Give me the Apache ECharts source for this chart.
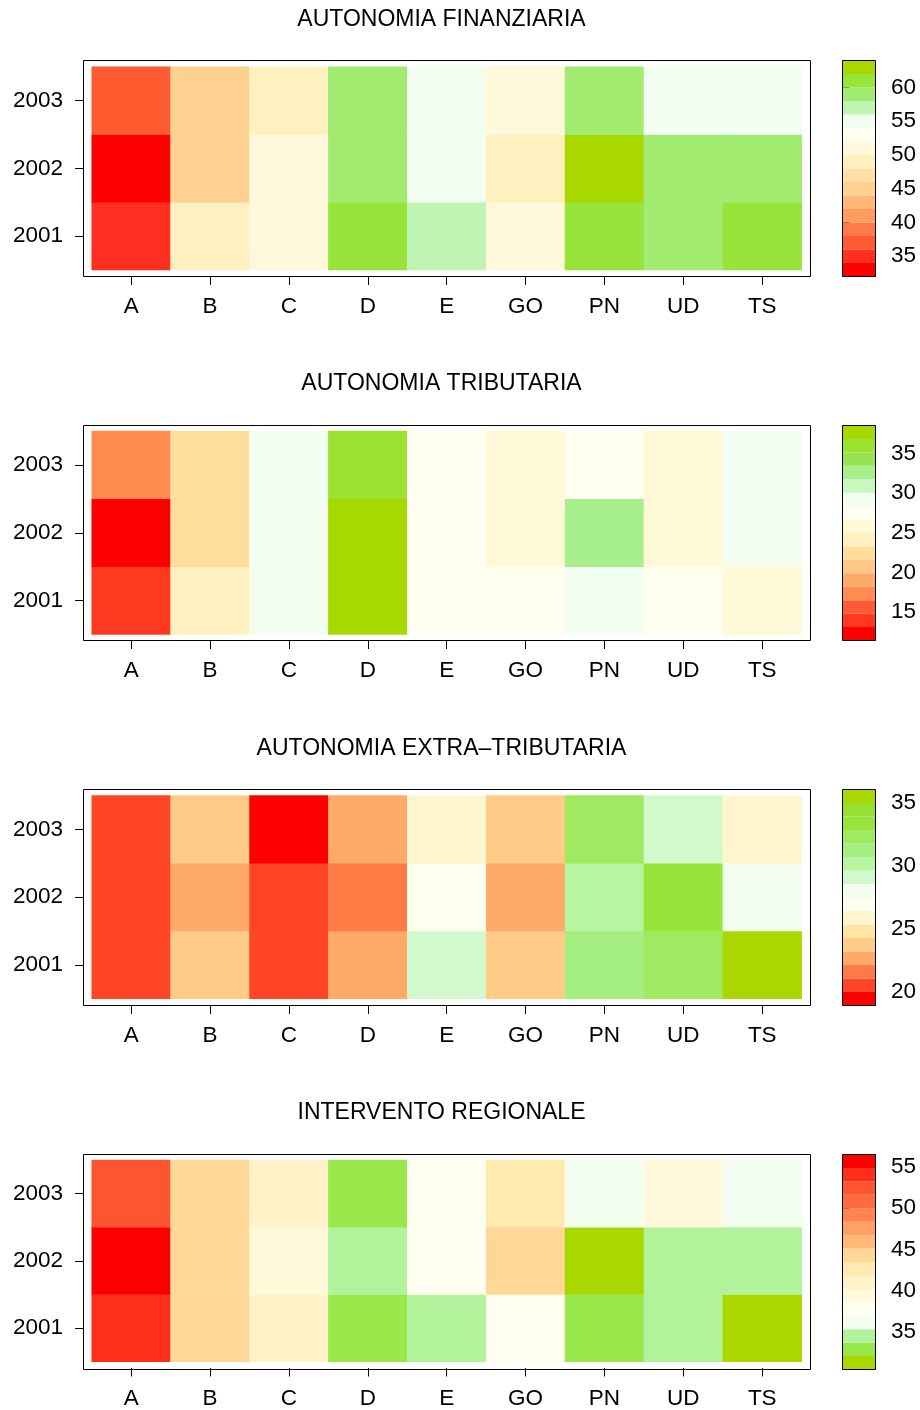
<!DOCTYPE html>
<html>
<head>
<meta charset="utf-8">
<script src="https://cdn.jsdelivr.net/npm/echarts@6.0.0/dist/echarts.min.js"></script>
<style>
html,body{margin:0;padding:0;background:#fff;}
#chart{width:920px;height:1410px;}
</style>
</head>
<body>
<div id="chart"></div>
<script>
// ---------------- DATA ----------------
const categories = ['A', 'B', 'C', 'D', 'E', 'GO', 'PN', 'UD', 'TS'];
const years = ['2001', '2002', '2003'];
const titles = ['AUTONOMIA FINANZIARIA', 'AUTONOMIA TRIBUTARIA', 'AUTONOMIA EXTRA\u2013TRIBUTARIA', 'INTERVENTO REGIONALE'];

const finanziaria_2001 = [34.6, 49.3, 51.0, 61.2, 57.1, 50.8, 60.9, 59.4, 61.5];
const finanziaria_2002 = [32.0, 45.2, 51.3, 59.0, 55.4, 48.6, 64.0, 59.7, 59.2];
const finanziaria_2003 = [37.1, 44.8, 49.5, 59.3, 55.2, 51.1, 58.8, 55.6, 55.1];

const tributaria_2001 = [13.9, 24.0, 29.3, 37.7, 27.6, 27.2, 28.9, 27.4, 25.6];
const tributaria_2002 = [11.45, 22.6, 29.1, 38.5, 27.7, 25.9, 32.6, 25.8, 29.0];
const tributaria_2003 = [17.3, 22.2, 29.4, 36.0, 27.5, 25.6, 27.0, 26.0, 29.2];

const extra_2001 = [20.6, 23.9, 20.4, 22.6, 29.0, 23.7, 31.3, 32.2, 36.05];
const extra_2002 = [20.5, 22.7, 20.8, 21.7, 26.9, 22.8, 30.1, 33.4, 28.1];
const extra_2003 = [20.3, 23.6, 18.95, 22.9, 25.8, 23.9, 32.4, 29.2, 26.0];

const intervento_2001 = [54.0, 44.5, 41.1, 32.9, 34.6, 37.9, 33.1, 34.4, 31.4];
const intervento_2002 = [56.5, 44.2, 39.5, 34.7, 37.7, 44.0, 30.5, 34.3, 34.5];
const intervento_2003 = [52.3, 44.4, 41.0, 33.0, 37.9, 42.6, 36.1, 39.3, 36.3];

// legend tick labels
const ticksFinanziaria = [35, 40, 45, 50, 55, 60];
const ticksTributaria = [15, 20, 25, 30, 35];
const ticksExtra = [20, 25, 30, 35];
const ticksIntervento = [35, 40, 45, 50, 55];

// colour palettes (low -> high value), 16 steps each
const palFinanziaria = ['#FF0000','#FF3020','#FF5A30','#FF7A48','#FF9C60','#FFB878','#FFD090','#FFE0A4','#FFF0C0','#FFF8DA','#FFFFF0','#F2FEF0','#BFF4B2','#A0EB70','#98E43A','#A8D800'];
const palTributaria = ['#FF0000','#FF3820','#FF5A35','#FF8C50','#FFAA68','#FFC888','#FFDE9C','#FFF0C0','#FFF9D8','#FFFFF0','#F2FEF0','#C8F7C0','#A8F08C','#98E450','#9CE230','#A5DA00'];
const palExtra = ['#FF0000','#FF4525','#FF7A45','#FFAA68','#FFCC88','#FFE4A8','#FFF6D0','#FFFFF0','#F3FEF0','#D2F9CC','#B8F5A0','#A5EE80','#9FEA60','#98E43A','#98E030','#A8D800'];
const palIntervento = ['#A8D800','#98E84C','#B2F29A','#F3FEF0','#FFFFF0','#FFF9DA','#FFF2C8','#FFEAB0','#FFD898','#FFBA7A','#FFA064','#FF8450','#FF6A40','#FF5530','#FF2E1A','#FF0000'];

// ---------------- LAYOUT ----------------
const FONT = "'Liberation Sans', Arial, Helvetica, sans-serif";
const FS = 22.5;
const FS_TITLE = 23;
const PITCH = 364.4;
const CELL_TOP0 = 66.7;
const CELL_H = 203.3;
const CELL_LEFT = 91.7;
const CELL_W = 710;
const BOX_LEFT = 83.5, BOX_RIGHT = 810.5;
const PAD_TOP = 6.3, PAD_BOT = 6.0;
const LEG_LEFT = 842.5, LEG_W = 33;
const TITLE_X = 441.5, TITLE_DY = 47.2;

const panels = [
  { title: titles[0], rows: [finanziaria_2001, finanziaria_2002, finanziaria_2003], pal: palFinanziaria, ticks: ticksFinanziaria },
  { title: titles[1], rows: [tributaria_2001, tributaria_2002, tributaria_2003], pal: palTributaria, ticks: ticksTributaria },
  { title: titles[2], rows: [extra_2001, extra_2002, extra_2003], pal: palExtra, ticks: ticksExtra },
  { title: titles[3], rows: [intervento_2001, intervento_2002, intervento_2003], pal: palIntervento, ticks: ticksIntervento }
];

const option = {
  animation: false,
  backgroundColor: '#ffffff',
  grid: [], xAxis: [], yAxis: [], series: [], visualMap: [], graphic: []
};

panels.forEach((p, i) => {
  const cellTop = CELL_TOP0 + i * PITCH;
  const boxTop = Math.round(cellTop - PAD_TOP) + 0.5;
  const boxBot = Math.round(cellTop + CELL_H + PAD_BOT) + 0.5;

  const all = [].concat(...p.rows);
  const vmin = Math.min(...all), vmax = Math.max(...all);
  const n = p.pal.length;
  const step = (vmax - vmin) / n;
  const breaks = [];
  for (let k = 0; k <= n; k++) breaks.push(vmin + k * step);

  const heatData = [];
  p.rows.forEach((row, yi) => row.forEach((v, xi) => heatData.push([xi, yi, v])));

  const gHeat = option.grid.length;
  option.grid.push({ left: CELL_LEFT, top: cellTop, width: CELL_W, height: CELL_H, containLabel: false });
  const gLeg = option.grid.length;
  option.grid.push({ left: LEG_LEFT, top: boxTop, width: LEG_W, height: boxBot - boxTop, containLabel: false });

  const xiHeat = option.xAxis.length;
  option.xAxis.push({
    gridIndex: gHeat, type: 'category', data: categories, position: 'bottom',
    offset: (boxBot - (cellTop + CELL_H)),
    axisLine: { show: false },
    axisTick: { show: true, alignWithLabel: true, length: 8.5, lineStyle: { color: '#000', width: 1 } },
    axisLabel: { margin: 19, fontSize: FS, color: '#000', fontFamily: FONT },
    splitLine: { show: false }
  });
  const yiHeat = option.yAxis.length;
  option.yAxis.push({
    gridIndex: gHeat, type: 'category', data: years, position: 'left',
    offset: CELL_LEFT - BOX_LEFT,
    axisLine: { show: false },
    axisTick: { show: true, alignWithLabel: true, length: 8.5, lineStyle: { color: '#000', width: 1 } },
    axisLabel: { margin: 20.5, fontSize: FS, color: '#000', fontFamily: FONT, padding: [6, 0, 0, 0] },
    splitLine: { show: false }
  });
  const xiLeg = option.xAxis.length;
  option.xAxis.push({ gridIndex: gLeg, type: 'value', min: 0, max: 1, show: false });
  const yiLeg = option.yAxis.length;
  option.yAxis.push({
    gridIndex: gLeg, type: 'value', min: vmin, max: vmax, position: 'right',
    axisLine: { show: false },
    axisTick: { show: true, length: 7, customValues: p.ticks, lineStyle: { color: '#000', width: 1 } },
    axisLabel: { show: true, margin: 15.5, customValues: p.ticks, fontSize: FS, color: '#000', fontFamily: FONT, padding: [4, 0, 0, 0] },
    splitLine: { show: false }
  });

  const sHeat = option.series.length;
  option.series.push({
    type: 'heatmap', xAxisIndex: xiHeat, yAxisIndex: yiHeat, data: heatData,
    silent: true, progressive: 0, itemStyle: { borderWidth: 0 }, emphasis: { disabled: true }
  });
  const pal = p.pal;
  option.series.push({
    type: 'custom', xAxisIndex: xiLeg, yAxisIndex: yiLeg, silent: true,
    data: breaks.slice(0, n).map((b, k) => [0, b, breaks[k + 1], k]),
    encode: { x: 0, y: [1, 2] },
    renderItem: function (params, api) {
      const lo = api.value(1), hi = api.value(2), k = api.value(3);
      const a = api.coord([0, lo]), b = api.coord([1, hi]);
      return { type: 'rect', shape: { x: a[0], y: b[1], width: b[0] - a[0], height: a[1] - b[1] }, style: { fill: pal[k] } };
    }
  });

  option.visualMap.push({
    type: 'piecewise', show: false, seriesIndex: sHeat, dimension: 2,
    pieces: pal.map((c, k) => ({
      gte: k === 0 ? breaks[0] - 1e-9 : breaks[k],
      lt: k === n - 1 ? breaks[n] + 1e-9 : breaks[k + 1],
      color: c
    }))
  });

  option.graphic.push({
    type: 'rect', z: 100, silent: true,
    shape: { x: BOX_LEFT, y: boxTop, width: BOX_RIGHT - BOX_LEFT, height: boxBot - boxTop },
    style: { fill: 'none', stroke: '#000', lineWidth: 1 }
  });
  option.graphic.push({
    type: 'rect', z: 100, silent: true,
    shape: { x: LEG_LEFT, y: boxTop, width: LEG_W, height: boxBot - boxTop },
    style: { fill: 'none', stroke: '#000', lineWidth: 1 }
  });
  option.graphic.push({
    type: 'text', z: 100, silent: true, x: TITLE_X, y: cellTop - TITLE_DY,
    style: { text: p.title, fill: '#000', fontSize: FS_TITLE, fontFamily: FONT, align: 'center', verticalAlign: 'middle' }
  });
});

const chart = echarts.init(document.getElementById('chart'), null, { renderer: 'canvas' });
chart.setOption(option);
</script>
</body>
</html>
